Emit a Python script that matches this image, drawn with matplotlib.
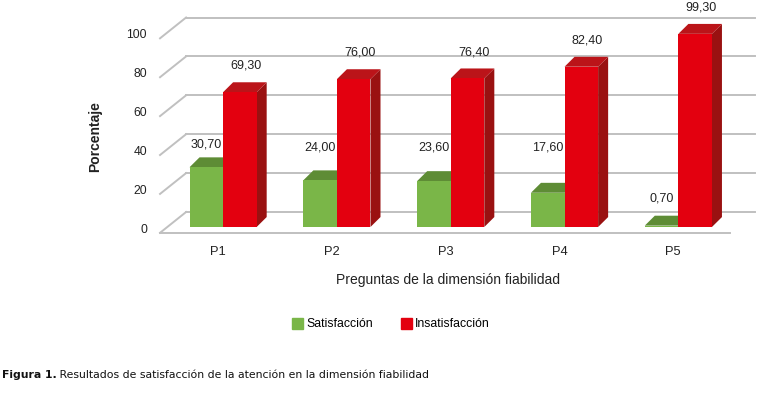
import numpy as np
import matplotlib
matplotlib.use("Agg")
import matplotlib.pyplot as plt

plt.rcParams['font.family'] = ['Liberation Sans', 'DejaVu Sans']

preguntas = ["P1", "P2", "P3", "P4", "P5"]
satisfaccion = [30.70, 24.00, 23.60, 17.60, 0.70]
insatisfaccion = [69.30, 76.00, 76.40, 82.40, 99.30]
yticks = [0, 20, 40, 60, 80, 100]

verde = ("#7ab648", "#5e8c35", "#4f772c")
rojo = ("#e3000f", "#bb1419", "#9a1111")

fig = plt.figure(figsize=(7.66, 3.96), dpi=100)
ax = fig.add_axes([0, 0, 1, 1])
# one x unit = one category (~113.8 px), one y unit = 1 % (~1.945 px)
ax.set_xlim(-1.96, 4.77)
ax.set_ylim(-86.9, 116.7)
ax.axis("off")

w = 0.295      # width of each bar
dx, dy = 0.088, 5.1    # depth offset of the 3D faces
back_x0, back_x1, back_dy = -0.325, 4.675, 7.7
front_x0, front_x1, front_dy = -0.554, 4.455, -3.0
grid = "#c0c0c0"

# walls / grid
for v in yticks:
    ax.plot([back_x0, back_x1], [v + back_dy, v + back_dy], color=grid, lw=1.4, zorder=1)
    ax.plot([front_x0, back_x0], [v + front_dy, v + back_dy], color=grid, lw=1.4, zorder=1)
    ax.text(-0.668, v - 1.5, str(v), ha="right", va="center", fontsize=8.7, color="#222222")
ax.plot([front_x0, front_x1], [front_dy, front_dy], color=grid, lw=1.4, zorder=1)


def bar3d(x0, v, cols, z):
    ax.bar(x0, v, width=w, align="edge", color=cols[0], zorder=z + 0.2, lw=0)
    ax.fill([x0, x0 + w, x0 + w + dx, x0 + dx], [v, v, v + dy, v + dy],
            color=cols[1], zorder=z + 0.1, lw=0)
    ax.fill([x0 + w, x0 + w + dx, x0 + w + dx, x0 + w], [0, dy, v + dy, v],
            color=cols[2], zorder=z, lw=0)


x = np.arange(len(preguntas))
for i in x:
    s, r = satisfaccion[i], insatisfaccion[i]
    bar3d(i - w, s, verde, 2 + i)
    bar3d(i, r, rojo, 2.5 + i)
    # the green labels sit on a common line unless the bar is tiny
    ys = max(s + 11.5, 41) if s > 5 else s + 13.7
    ax.text(i - w / 2, ys, f"{s:.2f}".replace(".", ","),
            ha="center", va="center", fontsize=9, color="#222222")
    ax.text(i + w / 2 + 0.055, r + 13.5, f"{r:.2f}".replace(".", ","),
            ha="center", va="center", fontsize=9, color="#222222")
    ax.text(i - 0.045, -12.9, preguntas[i], ha="center", va="center", fontsize=9.3, color="#222222")

ax.text(-1.125, 46.3, "Porcentaje", rotation=90, ha="center", va="center",
        fontsize=10, fontweight="bold", color="#222222")
ax.text(1.977, -27.2, "Preguntas de la dimensión fiabilidad", ha="center", va="center",
        fontsize=10, color="#222222")

h1 = plt.Rectangle((0, 0), 1, 1, color=verde[0])
h2 = plt.Rectangle((0, 0), 1, 1, color=rojo[0])
fig.legend([h1, h2], ["Satisfacción", "Insatisfacción"], ncol=2, loc="center",
           bbox_to_anchor=(0.510, 0.182), frameon=False, fontsize=8.8,
           handlelength=0.95, handleheight=1.05, handletextpad=0.2, columnspacing=2.3)

t1 = fig.text(0.002, 1 - 375 / 396, "Figura 1.", fontsize=7.8, fontweight="bold",
              family="DejaVu Sans", va="center", color="#111111")
ax.annotate(" Resultados de satisfacción de la atención en la dimensión fiabilidad",
            xy=(1, 0.5), xycoords=t1, va="center", ha="left", fontsize=7.8,
            family="DejaVu Sans", color="#111111")

fig.savefig("out.png", dpi=100)
